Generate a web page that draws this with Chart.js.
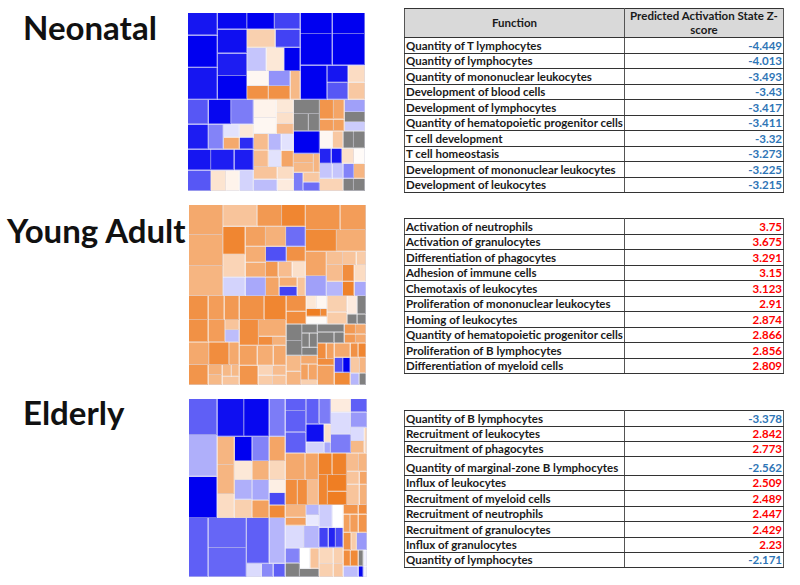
<!DOCTYPE html>
<html>
<head>
<meta charset="utf-8">
<title>Activation treemaps</title>
<script src="https://cdn.jsdelivr.net/npm/chart.js@4"></script>
<style>
html, body { margin: 0; padding: 0; background: #fff; }
body { position: relative; width: 800px; height: 585px; overflow: hidden; font-family: Lato, sans-serif; }
h1 { position: absolute; margin: 0; font-size: 33px; font-weight: 700; color: #111; line-height: 40px; white-space: nowrap; }
canvas { position: absolute; }
table { position: absolute; left: 404px; width: 379px; border-collapse: collapse; table-layout: fixed; font-size: 11.5px; font-weight: 700; color: #1a1a1a; }
td, th { border: 1px solid #333; border-left-color: #555; border-right-color: #555; padding: 0 1px; white-space: nowrap; overflow: hidden; vertical-align: bottom; line-height: 14px; }
th { background: #d9d9d9; text-align: center; white-space: normal; vertical-align: middle; }
td.num { text-align: right; }
td.neg { color: #2e75b6; }
td.pos { color: #f00; }
</style>
</head>
<body>
<h1 style="left:23px;top:7px">Neonatal</h1>
<h1 style="left:7px;top:210px">Young Adult</h1>
<h1 style="left:23px;top:392px">Elderly</h1>
<canvas id="neonatal" width="177" height="178" style="left:188px;top:13px"></canvas>
<canvas id="young" width="177" height="180" style="left:189px;top:205px"></canvas>
<canvas id="elderly" width="178" height="178" style="left:189px;top:399px"></canvas>
<table id="t1" style="top:8px"></table>
<table id="t2" style="top:218px"></table>
<table id="t3" style="top:410px"></table>
<script>
// tiles: [weight, zscore] or [weight, [children]], null zscore = no prediction (grey)
// levels alternate rows / columns, starting with rows
var neonatalTiles = [
  [261, [
    [89, [[68, -3.2], [97, -3.5], [96, -3.2]]],
    [88, [[50, -3.4], [72, -3.3], [68, -3.1], [71, -3.5]]],
    [160, [
      [50, [[83, -3.5], [77, -2.6]]],
      [55, [[85, 1.2], [75, -2.6]]],
      [70, [[57, -0.8], [52, 0.6], [48, -3.5]]],
      [86, [
        [130, [
          [45, [[65, 0.2], [65, -1.5]]],
          [41, [[65, 2.8], [65, 2.8]]]
        ]],
        [30, 1.8]
      ]]
    ]],
    [193, [
      [63, [[96, -3.5], [97, -3.5]]],
      [95, [[96, -3.5], [97, -3.5]]],
      [103, [
        [80, -3.5],
        [63, [[52, -3.2], [51, -2.3]]],
        [50, [[52, 0.9], [51, 1.4]]]
      ]]
    ]]
  ]],
  [275, [
    [197, [
      [75, [[62, -2.3], [67, -3.4], [68, -1.8]]],
      [75, [
        [62, -3.1],
        [45, -1.7],
        [90, [
          [43, [[48, -0.4], [42, 0.6]]],
          [40, [[48, 2.2], [42, -2.9]]]
        ]]
      ]],
      [63, [[69, -3.2], [70, -3.1], [58, -3.1]]],
      [62, [[69, -2.3], [45, 0.7], [41, 0.3], [42, -0.6]]]
    ]],
    [120, [
      [103, [
        [68, [[55, 0.3], [48, 0.2]]],
        [52, [[40, 0.6], [33, 0.8], [30, 1.7]]]
      ]],
      [100, [
        [44, [[48, 1.7], [50, 1.7]]],
        [37, [[50, -1], [48, -0.4]]],
        [37, [[50, -0.4], [48, 2.3]]]
      ]],
      [72, [
        [70, [[37, 1.5], [35, -0.9]]],
        [48, [[37, 0.9], [35, 0.5]]]
      ]]
    ]],
    [78, [
      [43, null],
      [52, [[45, null], [33, null]]],
      [68, -3.5],
      [57, [
        [60, [[28, 1.9], [29, 1.8]]],
        [18, 1.9]
      ]],
      [55, [
        [28, -1.8],
        [50, [[29, 1.4], [26, -2]]]
      ]]
    ]],
    [135, [
      [95, [
        [74, [
          [60, [[42, 2.7], [32, 2.3]]],
          [35, [[42, 2.5], [32, 2.4]]]
        ]],
        [61, [[37, -1.3], [30, null], [28, -0.7]]]
      ]],
      [52, [[38, 0.2], [32, 1.4], [32, null], [33, null]]],
      [46, [[35, -3], [31, -3.2], [36, 0.8], [33, 0.1]]],
      [45, [[38, -0.8], [32, -0.8], [32, -1.7], [33, 1.9]]],
      [37, [[70, 1.1], [32, null], [33, null]]]
    ]]
  ]]
];

var youngTiles = [
  [273, [
    [102, [[90, 2.2], [93, 2.1], [90, 1.9]]],
    [247, [
      [65, [[102, 1.5], [74, 2.6], [71, 3.1]]],
      [152, [
        [67, [[82, 3.1], [66, 1.1]]],
        [61, [[60, 2.4], [48, 2.1], [44, 2.1]]],
        [119, [
          [60, [[60, 2], [59, -2]]],
          [45, [[62, -2.4], [57, 2.8]]],
          [47, [[37, 2.6], [42, 1.7], [40, 0.8]]]
        ]]
      ]],
      [56, [
        [67, -0.6],
        [61, -1.2],
        [40, 2.3],
        [54, [[28, 2.1], [28, -2.6]]],
        [25, 1.5]
      ]]
    ]],
    [180, [
      [75, [[102, 2.7], [76, 2.5]]],
      [65, [[92, 3], [86, 2.1]]],
      [133, [
        [62, [[73, 2.3], [60, -1.3]]],
        [116, [
          [40, [[48, 1.6], [40, 1.5], [28, 1.3]]],
          [93, [
            [48, [[50, 1.7], [43, -1]]],
            [34, [[50, 2.9], [43, 3.2]]],
            [34, [[50, 0.9], [43, -1.2]]]
          ]]
        ]]
      ]]
    ]]
  ]],
  [267, [
    [151, [
      [72, [[58, 2.8], [48, 2.5], [45, 2.6]]],
      [67, [
        [58, 2.8],
        [50, 2.5],
        [43, [[30, 1.5], [37, -0.9]]]
      ]],
      [68, [[60, 2.2], [60, 2.9], [31, 2.2]]],
      [60, [
        [58, 2.7],
        [42, [[30, 2], [30, 1.8]]],
        [51, [
          [35, [[28, 1.8], [23, 1.8]]],
          [25, 1.5]
        ]]
      ]]
    ]],
    [140, [
      [72, [[74, 2.8], [66, 3.1]]],
      [77, [
        [58, 2.9],
        [82, [
          [50, 2.1],
          [27, [[42, 2.9], [40, 2]]]
        ]]
      ]],
      [60, [[54, 2.4], [48, 2.1], [38, 2.2]]],
      [58, [
        [56, 2.7],
        [44, [[30, 1.1], [28, 1.3]]],
        [40, [[30, 1.7], [28, 1.5]]]
      ]]
    ]],
    [238, [
      [85, [
        [60, [[47, 2.8], [38, 2.9]]],
        [62, [
          [39, [[30, 0.6], [30, 0.2]]],
          [23, [[42, 3.3], [18, 3]]],
          [23, 0.1]
        ]],
        [60, [[49, 1.2], [36, 1.3]]],
        [56, [
          [55, [[30, 0.5], [26, null]]],
          [30, [[30, null], [26, null]]]
        ]]
      ]],
      [182, [
        [94, [
          [94, [
            [47, [[50, null], [44, null]]],
            [47, [
              [27, null],
              [43, [[23, null], [24, null]]],
              [24, null]
            ]]
          ]],
          [88, [
            [44, [[48, 1.8], [40, 1.9]]],
            [50, [
              [26, 2.2],
              [47, [[23, 2.4], [27, 2.3]]],
              [15, 1.2]
            ]]
          ]]
        ]],
        [144, [
          [57, [
            [80, [
              [33, null],
              [47, [[35, null], [22, null]]]
            ]],
            [64, [
              [30, [[34, 2.6], [30, 2.2]]],
              [27, [[34, 2.6], [30, 2.2]]]
            ]]
          ]],
          [125, [
            [50, [
              [47, [[26, 2.9], [24, 2.4]]],
              [20, 2.9],
              [58, 2.4]
            ]],
            [48, [
              [43, 2.2],
              [45, [[24, -2.4], [21, -3.5]]],
              [37, 3]
            ]],
            [46, [
              [43, [[23, 2.8], [23, 3.1]]],
              [47, [[28, 1.4], [18, 1.9]]],
              [35, [[26, -1], [20, null]]]
            ]]
          ]]
        ]]
      ]]
    ]]
  ]]
];

var elderlyTiles = [
  [534, [
    [289, [
      [357, [
        [85, [[108, -2.2], [125, -1.1], [124, -3.5]]],
        [204, [
          [113, [[80, -3.3], [76, -3.4], [48, -1.8]]],
          [244, [
            [52, [[85, 1.9], [87, 1.9], [72, 0.9]]],
            [152, [
              [73, [[52, -3.5], [51, -1.7], [48, 2.3]]],
              [57, [[52, 0.6], [51, 2], [48, 1]]],
              [114, [
                [52, [[59, -1.1], [55, 1.2]]],
                [51, [[61, -1.2], [53, 2.4]]],
                [48, [[39, 0.4], [37, -2.5], [38, 3]]]
              ]]
            ]]
          ]]
        ]]
      ]],
      [177, [
        [58, -2.2],
        [115, [[90, -2.1], [87, -2.1]]],
        [116, [
          [137, [[68, -2.2], [48, -1]]],
          [40, [[45, -0.5], [35, -1.6], [36, -2.2]]]
        ]]
      ]]
    ]],
    [244, [
      [163, [
        [62, [[36, -2.2], [64, -2.2], [63, -2.2]]],
        [74, [
          [76, [[39, -2.2], [35, -1.8]]],
          [54, [[54, -3.3], [20, 0.8]]],
          [33, [[54, -0.6], [20, -1.2]]]
        ]],
        [60, [[40, 0.5], [66, -0.5], [57, -1.8]]],
        [48, [
          [40, -2.2],
          [46, -1.4],
          [40, [[40, -0.5], [8, 1]]],
          [37, [[40, 1.8], [8, 1]]]
        ]]
      ]],
      [155, [
        [100, [
          [80, [[59, 2.2], [41, 2.3]]],
          [75, [[37, 2.9], [30, 2.9], [33, 1.7]]]
        ]],
        [84, [
          [65, [[40, 3.2], [44, 3.2]]],
          [90, [
            [27, 3.1],
            [57, [[50, 3.3], [40, 3.3]]]
          ]]
        ]],
        [60, [
          [55, [[36, 1.7], [24, 1.9]]],
          [39, [[38, 1.5], [22, 2.3]]],
          [61, [[38, 1.5], [22, 2]]]
        ]]
      ]],
      [216, [
        [100, [
          [62, [
            [60, [[37, 1.9], [23, 2.4]]],
            [38, [[30, -1], [32, -0.3]]]
          ]],
          [68, [[54, -0.5], [44, -1]]],
          [86, [
            [42, [[45, -1.7], [42, null]]],
            [56, [
              [62, [[30, 0], [26, 1.5]]],
              [25, null]
            ]]
          ]]
        ]],
        [72, [
          [68, [[40, -0.7], [32, 0]]],
          [60, [[29, -2.6], [22, -3], [23, -2.5]]],
          [88, [
            [44, [[49, 1], [39, 1.2]]],
            [30, [[49, 1.2], [39, 1.4]]]
          ]]
        ]],
        [70, [
          [28, [[45, 2.7], [25, 2.9]]],
          [55, [[20, 2.4], [25, 2.5], [25, 2.7]]],
          [52, [[23, 2.8], [17, 1.3], [30, -1.4]]],
          [48, [[22, 2.9], [23, 3], [15, null], [10, -0.2]]],
          [32, [[45, -0.9], [15, -3.4], [10, -0.2]]]
        ]]
      ]]
    ]]
  ]]
];

var functions1 = ["Quantity of T lymphocytes", "Quantity of lymphocytes", "Quantity of mononuclear leukocytes", "Development of blood cells", "Development of lymphocytes", "Quantity of hematopoietic progenitor cells", "T cell development", "T cell homeostasis", "Development of mononuclear leukocytes", "Development of leukocytes"];
var scores1 = [-4.449, -4.013, -3.493, -3.43, -3.417, -3.411, -3.32, -3.273, -3.225, -3.215];
var functions2 = ["Activation of neutrophils", "Activation of granulocytes", "Differentiation of phagocytes", "Adhesion of immune cells", "Chemotaxis of leukocytes", "Proliferation of mononuclear leukocytes", "Homing of leukocytes", "Quantity of hematopoietic progenitor cells", "Proliferation of B lymphocytes", "Differentiation of myeloid cells"];
var scores2 = [3.75, 3.675, 3.291, 3.15, 3.123, 2.91, 2.874, 2.866, 2.856, 2.809];
var functions3 = ["Quantity of B lymphocytes", "Recruitment of leukocytes", "Recruitment of phagocytes", "Quantity of marginal-zone B lymphocytes", "Influx of leukocytes", "Recruitment of myeloid cells", "Recruitment of neutrophils", "Recruitment of granulocytes", "Influx of granulocytes", "Quantity of lymphocytes"];
var scores3 = [-3.378, 2.842, 2.773, -2.562, 2.509, 2.489, 2.447, 2.429, 2.23, -2.171];

var headers = ["Function", "Predicted Activation State Z-score"];

// turn the nested tile list into boxes on a 0-1 square
function layoutTiles(nodes, x, y, w, h, rows, out) {
  var total = nodes.reduce(function (s, n) { return s + n[0]; }, 0);
  var pos = 0;
  nodes.forEach(function (n) {
    var a = pos / total, b = (pos + n[0]) / total;
    var box = rows
      ? { x: x, x1: x + w, y: y + a * h, y1: y + b * h }
      : { x: x + a * w, x1: x + b * w, y: y, y1: y + h };
    if (Array.isArray(n[1])) {
      layoutTiles(n[1], box.x, box.y, box.x1 - box.x, box.y1 - box.y, !rows, out);
    } else {
      box.z = n[1];
      out.push(box);
    }
    pos += n[0];
  });
  return out;
}

function zRgb(z) {
  if (z === null) return [128, 128, 128];
  var t = Math.min(Math.abs(z) / 3.5, 1);
  var to = z < 0 ? [0, 0, 240] : [238, 118, 22];
  return to.map(function (v) { return 255 + (v - 255) * t; });
}

function rgb(c) {
  return 'rgb(' + c.map(Math.round).join(',') + ')';
}

// tile edge: the tile colour washed towards a pale grey
function zEdge(z) {
  var pale = [216, 216, 228];
  return rgb(zRgb(z).map(function (v, i) { return v + (pale[i] - v) * 0.5; }));
}

class TileController extends Chart.DatasetController {
  update(mode) {
    var els = this._cachedMeta.data;
    this.updateElements(els, 0, els.length, mode);
  }
  updateElements(els, start, count, mode) {
    var xs = this._cachedMeta.xScale, ys = this._cachedMeta.yScale;
    var data = this.getDataset().data;
    for (var i = start; i < start + count; i++) {
      var d = data[i];
      var left = xs.getPixelForValue(d.x), right = xs.getPixelForValue(d.x1);
      var top = ys.getPixelForValue(d.y), bottom = ys.getPixelForValue(d.y1);
      this.updateElement(els[i], i, {
        x: (left + right) / 2,
        y: top,
        base: bottom,
        width: right - left,
        height: bottom - top,
        horizontal: false,
        borderSkipped: {},
        inflateAmount: 0,
        options: this.resolveDataElementOptions(i, mode)
      }, 'none');
    }
  }
}
TileController.id = 'tile';
TileController.defaults = { dataElementType: 'bar' };
Chart.register(TileController);

function drawMap(id, tiles) {
  new Chart(document.getElementById(id), {
    type: 'tile',
    data: {
      datasets: [{
        data: layoutTiles(tiles, 0, 0, 1, 1, true, []),
        backgroundColor: function (c) { return rgb(zRgb(c.raw.z)); },
        borderColor: function (c) { return zEdge(c.raw.z); },
        borderWidth: { right: 1, bottom: 1 }
      }]
    },
    options: {
      responsive: false,
      animation: false,
      plugins: { legend: { display: false }, tooltip: { enabled: false } },
      scales: {
        x: { type: 'linear', display: false, min: 0, max: 1 },
        y: { type: 'linear', display: false, min: 0, max: 1, reverse: true }
      }
    }
  });
}

drawMap('neonatal', neonatalTiles);
drawMap('young', youngTiles);
drawMap('elderly', elderlyTiles);

function fillTable(id, withHeader, names, scores, rowHeights) {
  var html = '<colgroup><col style="width:220px"><col style="width:159px"></colgroup>';
  if (withHeader) {
    html += '<tr style="height:29px"><th>' + headers[0] + '</th><th>' + headers[1] + '</th></tr>';
  }
  names.forEach(function (name, i) {
    html += '<tr style="height:' + rowHeights[i] + 'px"><td>' + name + '</td><td class="num ' +
      (scores[i] < 0 ? 'neg' : 'pos') + '">' + scores[i] + '</td></tr>';
  });
  document.getElementById(id).innerHTML = html;
}

fillTable('t1', true, functions1, scores1, [15.5, 15.5, 15.5, 15.5, 15.5, 15.5, 15.5, 15.5, 15.5, 15.5]);
fillTable('t2', false, functions2, scores2, [15.5, 15.5, 15.5, 15.5, 15.5, 15.5, 15.5, 15.5, 15.5, 15.5]);
fillTable('t3', false, functions3, scores3, [15.5, 15.5, 15, 18.5, 15.5, 15.5, 15.5, 15.5, 15.5, 15]);
</script>
</body>
</html>
